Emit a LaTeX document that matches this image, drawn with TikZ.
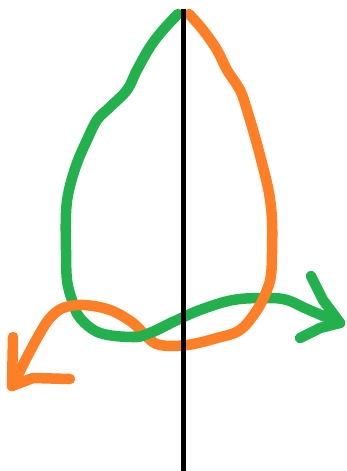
\documentclass[tikz,border=0pt]{standalone}
\usepackage{tikz}
\definecolor{paintgreen}{HTML}{22B14C}
\definecolor{paintorange}{HTML}{FF7F27}
\newcommand{\greenroute}{plot[smooth,tension=0.6] coordinates {
    (178,14) (163,30) (150,47) (137,70) (127,90) (110,107) (97,120)
    (87,140) (77,163) (69,190) (66,213) (66,250) (67,280) (72,300)
    (80,318) (100,333) (133,337) (150,333) (173,322) (200,310)
    (233,300) (267,298) (287,300) (307,309) (340,323)}}

\begin{document}
\begin{tikzpicture}[x=1pt,y=-1pt,
  brush/.style={line width=10.5pt,line cap=round,line join=round},
  greenbrush/.style={brush,paintgreen},
  orangebrush/.style={brush,paintorange}]
  \useasboundingbox (0,0) rectangle (346,471);
  % green stroke, then its arrow head
  \draw[greenbrush] \greenroute;
  \draw[greenbrush] (311,276) -- (323,300) -- (340,323) -- (320,328) -- (300,338);
  % orange stroke, then its arrow head
  \draw[orangebrush] plot[smooth,tension=0.6] coordinates {
    (189,14) (203,30) (217,50) (227,70) (240,90) (247,110) (255,137)
    (263,167) (269,193) (272,220) (272,253) (271,275) (267,290)
    (257,310) (240,330) (217,338) (187,345) (160,345) (147,337)
    (133,323) (110,310) (83,305) (63,308) (50,318) (40,333)
    (27,357) (17,377) (12,386)};
  \draw[orangebrush] (13,337) -- (12,386) -- (33,378) -- (70,379);
  % green goes over orange in the middle crossing
  \begin{scope}
    \clip (132,312) rectangle (172,352);
    \draw[greenbrush] \greenroute;
  \end{scope}
  % the upright line
  \draw[line width=5pt,black] (183,9) -- (183,471);
\end{tikzpicture}
\end{document}
